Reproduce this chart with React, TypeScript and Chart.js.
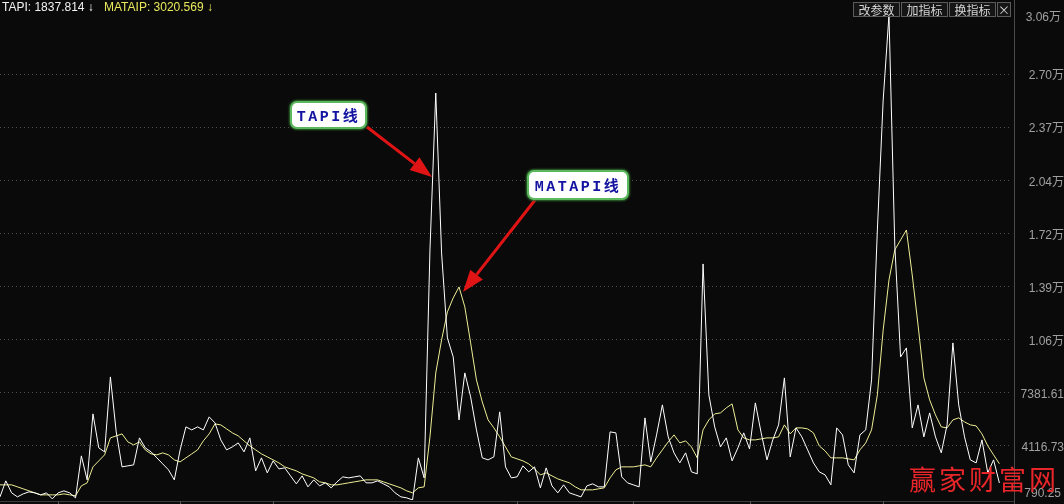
import React, { useEffect, useRef } from "react";
import { Chart, registerables } from "chart.js";

Chart.register(...registerables);

const BG = "#0a0a0a";

// trading-day slots: 173 days with data + 2 empty slots at the right end of the plot
const dayLabels: string[] = Array.from({ length: 175 }, (_, i) => `D${i + 1}`);

const tapi: number[] = [
  983, 1966, 1229, 983, 1168, 1291, 1229, 1106, 1229, 860,
  1229, 1352, 1229, 922, 3502, 2028, 6083, 3994, 3748, 8356,
  4977, 2827, 2888, 2949, 4608, 3994, 3748, 3380, 3011, 2642,
  2028, 3871, 5284, 5100, 5284, 5100, 5899, 5530, 4485, 3871,
  4055, 4301, 3748, 4608, 2581, 3380, 2458, 3195, 2704, 2765,
  2274, 1782, 2274, 1598, 2028, 1659, 1844, 1536, 1905, 2212,
  2151, 2212, 2274, 1844, 1844, 1966, 1782, 1598, 1229, 983,
  922, 790.25, 3380, 2151, 16159, 25805, 15975, 10752, 9585, 5714,
  8602, 7127, 5100, 3380, 3257, 3441, 6206, 2827, 2151, 2212,
  2888, 2519, 2827, 1536, 2765, 1659, 1229, 1721, 1229, 1106,
  983, 1659, 1782, 1598, 1598, 4977, 4916, 2212, 1844, 1721,
  1598, 5837, 3134, 4793, 6636, 4670, 3687, 3072, 3687, 2519,
  2396, 15299, 7250, 5284, 4055, 4608, 3195, 3994, 4916, 3932,
  6759, 4916, 3257, 4485, 5407, 8295, 3441, 5223, 4670, 3871,
  3072, 2519, 2335, 1721, 5223, 4793, 2949, 2458, 4793, 5100,
  8172, 17388, 25375, 30600, 16466, 9585, 10138, 5223, 6636, 4670,
  6144, 4670, 3687, 5407, 10445, 6636, 4670, 3257, 3072, 4485,
  2458, 3257, 1837.814,
];

const matapi: number[] = [
  1721, 1721, 1721, 1598, 1475, 1352, 1229, 1106, 1106, 1106,
  1106, 1168, 1106, 1045, 1659, 1844, 2827, 3195, 3564, 4608,
  4731, 4854, 4363, 4178, 4363, 3871, 3625, 3564, 3687, 3564,
  3257, 3134, 3380, 3625, 3871, 4424, 4854, 5468, 5407, 5161,
  4916, 4731, 4424, 4117, 3871, 3625, 3441, 3257, 3072, 2827,
  2704, 2581, 2396, 2274, 2151, 1905, 1844, 1721, 1721, 1782,
  1844, 1905, 1966, 2028, 2028, 2028, 1905, 1782, 1659, 1536,
  1352, 1229, 1536, 1598, 4670, 8600, 10629, 12350, 13210, 13886,
  12657, 10445, 8172, 6820, 5714, 5223, 4670, 4055, 3441, 3318,
  3195, 3011, 2704, 2335, 2458, 2274, 2089, 1966, 1844, 1598,
  1413, 1413, 1413, 1475, 1536, 2151, 2642, 2827, 2827, 2827,
  2888, 2949, 2827, 3380, 3871, 4363, 4793, 4301, 4424, 4055,
  3380, 5100, 5714, 6083, 6144, 6452, 6697, 5100, 4608, 4485,
  4485, 4547, 4608, 4608, 4670, 5407, 4854, 5223, 5223, 5161,
  4916, 4117, 3810, 3380, 3380, 3380, 3318, 3257, 3871, 4301,
  5100, 7250, 11244, 14316, 16159, 16773, 17388, 14623, 11551, 8295,
  6943, 6021, 5284, 5223, 5714, 5837, 5591, 5407, 5346, 4854,
  4117, 3564, 3020.569,
];

const yTickValues: number[] = [
  790.25, 4116.73, 7381.61, 10646.49, 13911.37, 17176.25, 20441.13, 23706.01, 26970.89, 30600,
];

const monthStartIdx: number[] = [10, 31, 47, 89, 109, 129, 152];

const legendItems = [
  { text: "TAPI: 1837.814 ↓", color: "#f2f2f2", left: 2 },
  { text: "MATAIP: 3020.569 ↓", color: "#e8e85c", left: 104 },
];

const toolButtons = [
  { text: "改参数", left: 853, width: 47 },
  { text: "加指标", left: 901, width: 47 },
  { text: "换指标", left: 949, width: 47 },
  { text: "×", left: 997, width: 14 },
];

const callouts = [
  { text: "TAPI线", left: 290, top: 101, width: 77, height: 28, tail: [367, 127], tip: [432, 177] },
  { text: "MATAPI线", left: 527, top: 170, width: 102, height: 30, tail: [535, 200], tip: [463, 292] },
];

const AXIS_FONT = "'Liberation Sans', Arial, 'Noto Sans CJK SC', sans-serif";

function fmt(v: number): string {
  return v >= 10000 ? (v / 10000).toFixed(2) + "万" : v.toFixed(2);
}

function arrowHead(tail: number[], tip: number[], len: number, half: number) {
  const dx = tip[0] - tail[0];
  const dy = tip[1] - tail[1];
  const L = Math.hypot(dx, dy);
  const ux = dx / L, uy = dy / L;
  const bx = tip[0] - ux * len, by = tip[1] - uy * len;
  const nx = -uy, ny = ux;
  return {
    base: [bx, by],
    points: `${tip[0]},${tip[1]} ${bx + nx * half},${by + ny * half} ${bx - nx * half},${by - ny * half}`,
  };
}

const decorPlugin = {
  id: "decor",
  beforeDraw(chart: any) {
    const { ctx, width, height } = chart;
    ctx.save();
    ctx.fillStyle = BG;
    ctx.fillRect(0, 0, width, height);
    ctx.restore();
  },
  afterDraw(chart: any) {
    const { ctx, chartArea, scales, width, height } = chart;
    const ys = scales.y;
    const xs = scales.x;
    ctx.save();
    // vertical axis separator
    const axX = Math.round(chartArea.right + 3) + 0.5;
    ctx.strokeStyle = "#4a4a4a";
    ctx.lineWidth = 1;
    ctx.beginPath();
    ctx.moveTo(axX, 0);
    ctx.lineTo(axX, height);
    ctx.stroke();
    // bottom base line
    const by = Math.round(chartArea.bottom + 1) + 0.5;
    ctx.strokeStyle = "#3c3c3c";
    ctx.beginPath();
    ctx.moveTo(0, by);
    ctx.lineTo(axX, by);
    ctx.stroke();
    // month separators
    ctx.strokeStyle = "#5a5a5a";
    monthStartIdx.forEach((i) => {
      const x = Math.round(xs.getPixelForValue(i)) + 0.5;
      ctx.beginPath();
      ctx.moveTo(x, by);
      ctx.lineTo(x, height);
      ctx.stroke();
    });
    // edge labels (min / max), kept inside the plot
    ctx.fillStyle = "#a0a0a0";
    ctx.font = `12px ${AXIS_FONT}`;
    ctx.textAlign = "right";
    ctx.textBaseline = "middle";
    const edge = [yTickValues[0], yTickValues[yTickValues.length - 1]];
    edge.forEach((v) => {
      const p = ys.getPixelForValue(v);
      const y = Math.max(chartArea.top + 3, Math.min(chartArea.bottom - 6, p));
      ctx.fillText(fmt(v), width - 3, y);
    });
    ctx.restore();
  },
};

export default function App() {
  const ref = useRef<HTMLCanvasElement | null>(null);

  useEffect(() => {
    if (!ref.current) return;
    const chart = new Chart(ref.current, {
      type: "line",
      data: {
        labels: dayLabels,
        datasets: [
          {
            label: "TAPI",
            data: tapi,
            borderColor: "#ffffff",
            borderWidth: 1,
            pointRadius: 0,
            tension: 0,
            fill: false,
          },
          {
            label: "MATAPI",
            data: matapi,
            borderColor: "#eeee96",
            borderWidth: 1,
            pointRadius: 0,
            tension: 0,
            fill: false,
          },
        ],
      },
      options: {
        animation: false,
        responsive: false,
        maintainAspectRatio: false,
        events: [],
        layout: { autoPadding: false, padding: { top: 15, bottom: 4, left: 0, right: 0 } },
        plugins: { legend: { display: false }, tooltip: { enabled: false }, title: { display: false } },
        scales: {
          x: { type: "category", display: false, offset: false, grid: { display: false } },
          y: {
            position: "right",
            min: 790.25,
            max: 30600,
            afterBuildTicks: (s: any) => {
              s.ticks = yTickValues.map((v) => ({ value: v }));
            },
            afterFit: (s: any) => {
              s.width = 53;
              s.paddingTop = 0;
              s.paddingBottom = 0;
            },
            ticks: {
              color: "#a0a0a0",
              font: { family: AXIS_FONT, size: 12 },
              padding: 6,
              labelOffset: 2,
              crossAlign: "far",
              autoSkip: false,
              callback: (v: any, i: number, arr: any[]) =>
                i === 0 || i === arr.length - 1 ? "" : fmt(Number(v)),
            },
            grid: {
              drawTicks: false,
              lineWidth: 1,
              color: (c: any) =>
                c.index === 0 || c.index === yTickValues.length - 1 ? "rgba(0,0,0,0)" : "#4e4e4e",
            },
            border: { display: false, dash: [1, 3] },
          },
        },
      },
      plugins: [decorPlugin],
    } as any);
    return () => chart.destroy();
  }, []);

  return (
    <div
      style={{
        position: "fixed",
        left: 0,
        top: 0,
        width: 1064,
        height: 504,
        background: BG,
        overflow: "hidden",
      }}
    >
      <canvas
        ref={ref}
        width={1064}
        height={504}
        style={{ position: "absolute", left: 0, top: 0, width: 1064, height: 504 }}
      />
      {legendItems.map((l) => (
        <div
          key={l.text}
          style={{
            position: "absolute",
            left: l.left,
            top: 0,
            color: l.color,
            font: `12px ${AXIS_FONT}`,
            lineHeight: "14px",
            whiteSpace: "nowrap",
          }}
        >
          {l.text}
        </div>
      ))}
      {toolButtons.map((b) => (
        <div
          key={b.text}
          style={{
            position: "absolute",
            left: b.left,
            top: 2,
            width: b.width,
            height: 15,
            boxSizing: "border-box",
            border: "1px solid #5c5c5c",
            background: "#151515",
            color: "#d4d4d4",
            font: "12px 'Noto Sans CJK SC', sans-serif",
            lineHeight: "13px",
            textAlign: "center",
            whiteSpace: "nowrap",
          }}
        >
          {b.text}
        </div>
      ))}
      <svg
        width={1064}
        height={504}
        style={{ position: "absolute", left: 0, top: 0, pointerEvents: "none" }}
      >
        {callouts.map((c) => {
          const h = arrowHead(c.tail, c.tip, 22, 8);
          return (
            <g key={c.text}>
              <line
                x1={c.tail[0]}
                y1={c.tail[1]}
                x2={h.base[0]}
                y2={h.base[1]}
                stroke="#e01414"
                strokeWidth={3}
              />
              <polygon points={h.points} fill="#e01414" />
            </g>
          );
        })}
      </svg>
      {callouts.map((c) => (
        <div
          key={c.text}
          style={{
            position: "absolute",
            left: c.left,
            top: c.top,
            width: c.width,
            height: c.height,
            boxSizing: "border-box",
            border: "2px solid #5cb85c",
            borderRadius: 7,
            background: "#ffffff",
            boxShadow: "0 0 2px 1px #2e6e2e",
            display: "flex",
            alignItems: "center",
            justifyContent: "center",
            color: "#1414a0",
            font: "bold 15px 'Liberation Mono', 'Noto Sans CJK SC', monospace",
            letterSpacing: "2.5px",
            whiteSpace: "nowrap",
          }}
        >
          {c.text}
        </div>
      ))}
      <div
        style={{
          position: "absolute",
          left: 909,
          top: 465,
          color: "#e8262a",
          font: "27px 'Noto Sans CJK SC', sans-serif",
          lineHeight: "27px",
          letterSpacing: "3px",
          whiteSpace: "nowrap",
        }}
      >
        赢家财富网
      </div>
    </div>
  );
}
